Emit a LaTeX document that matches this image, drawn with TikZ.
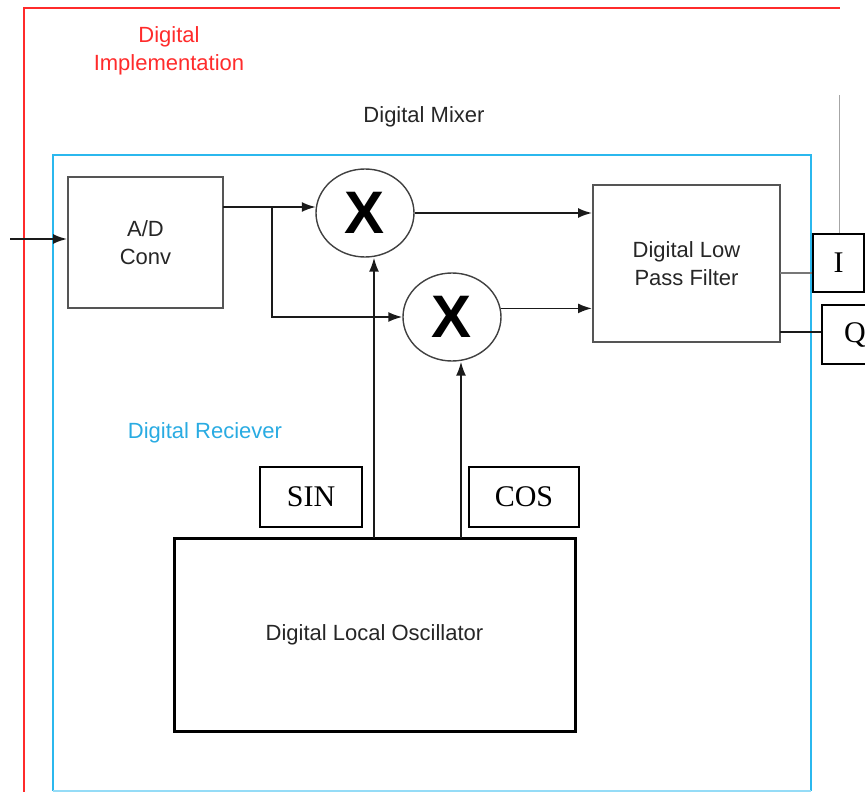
\documentclass[tikz,border=0pt]{standalone}
\usepackage{fontspec}
\setmainfont{Liberation Sans}
\newfontfamily\serifrm{Liberation Serif}
\usetikzlibrary{arrows.meta,shapes.geometric}
\definecolor{implred}{HTML}{FF2B2B}
\definecolor{rxblue}{HTML}{2BB8EE}
\definecolor{rxtext}{HTML}{29ABE2}
\definecolor{boxgray}{HTML}{555555}
\definecolor{wire}{HTML}{1A1A1A}
\begin{document}
\begin{tikzpicture}[x=1pt,y=-1pt,
  blockbox/.style={draw=boxgray,line width=2pt,inner sep=0pt,align=center,
    font=\fontsize{22}{28}\selectfont,text=black!85},
  mixer/.style={draw=black!75,line width=1.4pt,ellipse,inner sep=0pt,
    minimum width=98pt,minimum height=88pt,font=\fontsize{60}{60}\selectfont\bfseries},
  tagbox/.style={draw=black,line width=2pt,inner sep=0pt,
    font=\serifrm\fontsize{30}{30}\selectfont},
  sig/.style={draw=wire,line width=1.8pt,-{Latex[length=14pt,width=10pt]}},
  plain/.style={draw=wire,line width=2pt},
  label/.style={font=\fontsize{22}{28}\selectfont,align=center}]
\useasboundingbox (0,0) rectangle (865,792);
\clip (0,0) rectangle (865,792);

% outer implementation frame and receiver frame
\draw[implred,line width=2pt] (24,800) -- (24,8) -- (840,8);
\draw[rxblue,line width=2.5pt] (53,791) -- (53,155) -- (811,155) -- (811,791);
\draw[rxblue!50,line width=2.5pt] (53,791) -- (811,791);

% text labels
\node[label,text=implred] (impl) at (169,51) {Digital\\Implementation};
\node[label,text=black!85] (mixtitle) at (424,117) {Digital Mixer};
\node[label,text=rxtext] (rxtitle) at (205,433) {Digital Reciever};

% blocks
\node[blockbox,minimum width=155pt,minimum height=131pt] (ad) at (145.5,242.5) {A/D\\Conv};
\node[blockbox,minimum width=187pt,minimum height=157pt] (lpf) at (686.5,263.5) {Digital Low\\Pass Filter};
\node[blockbox,draw=black,line width=3pt,minimum width=401pt,minimum height=193pt] (lo) at (374.5,634.5) {Digital Local Oscillator};

\node[mixer] (m1) at (365,213) {X};
\node[mixer] (m2) at (452,317) {X};

\node[tagbox,minimum width=102pt,minimum height=60pt] (sin) at (311,497) {SIN};
\node[tagbox,minimum width=110pt,minimum height=60pt] (cos) at (524,497) {COS};
\node[tagbox,minimum width=51pt,minimum height=58pt] (ibox) at (838.5,263) {I};
\node[tagbox,minimum width=66pt,minimum height=59pt] (qbox) at (855,334.5) {Q};

% connection points
\coordinate (src) at (10,239);
\coordinate (ado) at (223,207);
\coordinate (br) at (272,207);
\coordinate (s1) at (374,538);
\coordinate (c1) at (461,538);
\coordinate (fi) at (780,273);
\coordinate (fq) at (780,332);
\coordinate (gtop) at (839,95);

% signal path
\draw[sig] (src) -- (src -| ad.west);
\draw[sig] (ado) -- (ado -| m1.173);
\draw[sig] (br) |- (m2.west);
\draw[sig] (m1.east) -- (m1.east -| lpf.west);
\draw[sig] (m2.10) -- (m2.10 -| lpf.west);
\draw[sig] (s1) -- (s1 |- m1.south);
\draw[sig] (c1) -- (c1 |- m2.south);

% filter outputs
\draw[boxgray!80,line width=2pt] (fi) -- (fi -| ibox.west);
\draw[plain] (fq) -- (fq -| qbox.west);
\draw[black!35,line width=1pt] (gtop) -- (gtop |- ibox.north);
\end{tikzpicture}
\end{document}
